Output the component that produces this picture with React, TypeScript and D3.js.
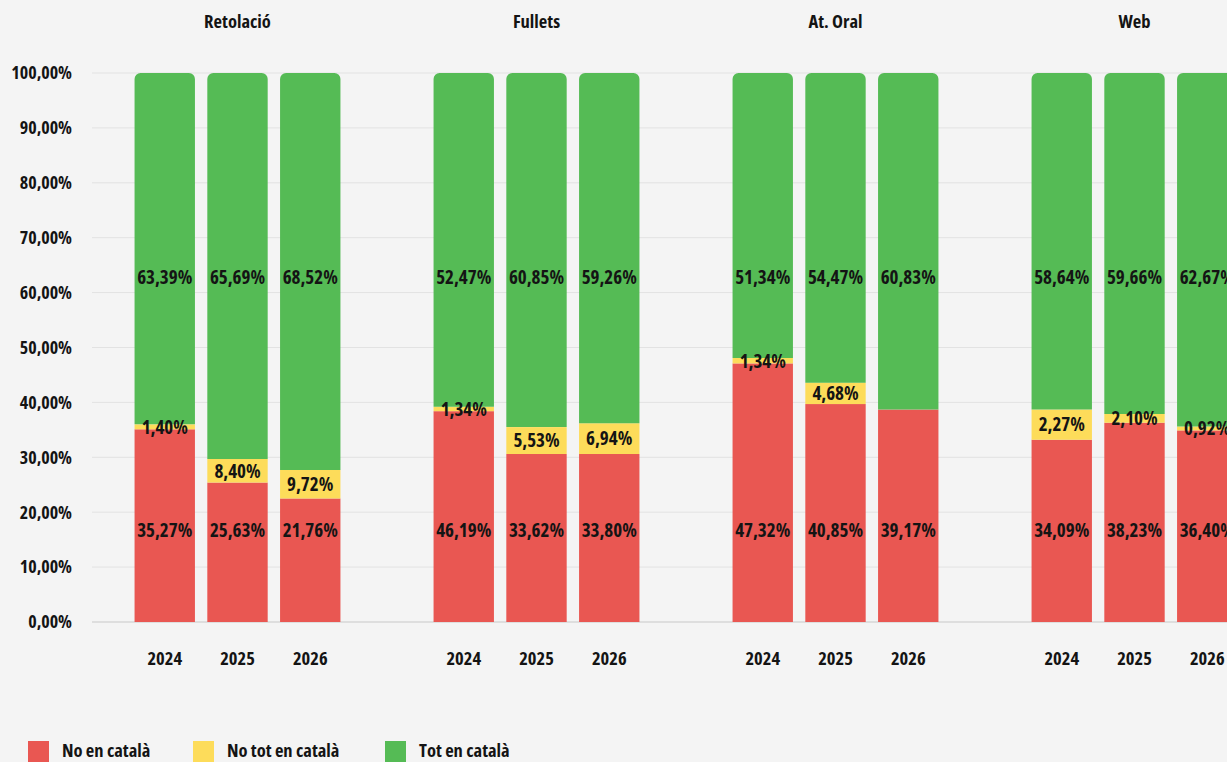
import { useEffect, useRef } from "react";
import * as d3 from "d3";

const W = 1227;
const H = 762;
const FONT = "'Open Sans', 'Liberation Sans Narrow', sans-serif";

const categories = ["Retolació", "Fullets", "At. Oral", "Web"];
const years = ["2024", "2025", "2026"];
const series = ["No en català", "No tot en català", "Tot en català"];
const colors = ["#e95752", "#fddc5a", "#55bb55"];

// bar segments as drawn (share of 100), one row per category, one entry per year
const noEnCatala = [
  [35.1, 25.4, 22.5],
  [38.4, 30.6, 30.6],
  [47.1, 39.7, 38.7],
  [33.2, 36.3, 34.9],
];
const noTotEnCatala = [
  [0.9, 4.3, 5.2],
  [0.8, 4.9, 5.6],
  [1.0, 3.9, 0],
  [5.5, 1.6, 0.7],
];
const totEnCatala = [
  [64.0, 70.3, 72.3],
  [60.8, 64.5, 63.8],
  [51.9, 56.4, 61.3],
  [61.3, 62.1, 64.4],
];

// values printed on the bars
const labelNoEnCatala = [
  [35.27, 25.63, 21.76],
  [46.19, 33.62, 33.8],
  [47.32, 40.85, 39.17],
  [34.09, 38.23, 36.4],
];
const labelNoTot = [
  [1.4, 8.4, 9.72],
  [1.34, 5.53, 6.94],
  [1.34, 4.68, null],
  [2.27, 2.1, 0.92],
];
const labelTot = [
  [63.39, 65.69, 68.52],
  [52.47, 60.85, 59.26],
  [51.34, 54.47, 60.83],
  [58.64, 59.66, 62.67],
];

const yTicks = [0, 10, 20, 30, 40, 50, 60, 70, 80, 90, 100];

// where the red and green labels sit, in axis units
const RED_LABEL_AT = 16.8;
const GREEN_LABEL_AT = 62.8;

const locale = d3.formatLocale({
  decimal: ",",
  thousands: ".",
  grouping: [3],
  currency: ["", "€"],
});
const fmt = (v: number) => locale.format(".2f")(v) + "%";

type Row = { cat: string; year: string; ci: number; yi: number; [k: string]: any };

const txt = (sel: d3.Selection<SVGTextElement, any, any, any>, size: number) =>
  sel
    .style("font-family", FONT)
    .style("font-stretch", "75%")
    .style("font-weight", 700)
    .style("font-size", `${size}px`)
    .attr("fill", "#141414");

export default function App() {
  const svgRef = useRef<SVGSVGElement>(null);

  useEffect(() => {
    const svg = d3.select(svgRef.current);
    if (!svg.node()) return;
    svg.selectAll("*").remove();

    svg.append("rect").attr("width", W).attr("height", H).attr("fill", "#f4f4f4");

    const y = d3.scaleLinear().domain([0, 100]).range([622, 73]);
    const x0 = d3.scaleBand().domain(categories).range([88, 1284]).padding(0);
    const x1 = d3
      .scaleBand()
      .domain(years)
      .range([0, x0.bandwidth()])
      .paddingInner(0.17)
      .paddingOuter(0.64);

    const rows: Row[] = [];
    categories.forEach((cat, ci) =>
      years.forEach((year, yi) =>
        rows.push({
          cat,
          year,
          ci,
          yi,
          [series[0]]: noEnCatala[ci][yi],
          [series[1]]: noTotEnCatala[ci][yi],
          [series[2]]: totEnCatala[ci][yi],
        }),
      ),
    );

    const stacked = d3.stack<Row>().keys(series)(rows);
    const bx = (d: Row) => x0(d.cat)! + x1(d.year)!;
    const bw = x1.bandwidth();

    // grid
    const grid = svg.append("g");
    grid
      .selectAll("line")
      .data(yTicks)
      .join("line")
      .attr("x1", 92)
      .attr("x2", W)
      .attr("y1", (d) => y(d))
      .attr("y2", (d) => y(d))
      .attr("stroke", (d) => (d === 0 ? "#c8c8c8" : "#e2e2e2"))
      .attr("stroke-width", 1);

    grid
      .selectAll("text")
      .data(yTicks)
      .join("text")
      .attr("x", 72)
      .attr("y", (d) => y(d))
      .attr("dy", "0.35em")
      .attr("text-anchor", "end")
      .call(txt, 18)
      .text((d) => fmt(d));

    // bars
    const r = 6;
    stacked.forEach((layer, li) => {
      const g = svg.append("g").attr("fill", colors[li]);
      layer.forEach((seg) => {
        const d = seg.data;
        const xL = bx(d);
        const yTop = y(seg[1]);
        const yBot = y(seg[0]);
        if (yBot - yTop <= 0) return;
        if (li === series.length - 1) {
          const p = d3.path();
          p.moveTo(xL, yBot);
          p.lineTo(xL, yTop + r);
          p.arcTo(xL, yTop, xL + r, yTop, r);
          p.lineTo(xL + bw - r, yTop);
          p.arcTo(xL + bw, yTop, xL + bw, yTop + r, r);
          p.lineTo(xL + bw, yBot);
          p.closePath();
          g.append("path").attr("d", p.toString());
        } else {
          g.append("rect")
            .attr("x", xL)
            .attr("y", yTop)
            .attr("width", bw)
            .attr("height", yBot - yTop);
        }
      });
    });

    const labels = svg.append("g").attr("text-anchor", "middle");
    rows.forEach((d, i) => {
      const cx = bx(d) + bw / 2;
      labels
        .append("text")
        .call(txt, 19)
        .attr("dy", "0.36em")
        .attr("x", cx)
        .attr("y", y(RED_LABEL_AT))
        .text(fmt(labelNoEnCatala[d.ci][d.yi]));
      const mid = labelNoTot[d.ci][d.yi];
      if (mid != null) {
        const seg = stacked[1][i];
        labels
          .append("text")
          .call(txt, 19)
          .attr("dy", "0.36em")
          .attr("x", cx)
          .attr("y", (y(seg[0]) + y(seg[1])) / 2)
          .text(fmt(mid));
      }
      labels
        .append("text")
        .call(txt, 19)
        .attr("dy", "0.36em")
        .attr("x", cx)
        .attr("y", y(GREEN_LABEL_AT))
        .text(fmt(labelTot[d.ci][d.yi]));
    });

    // year labels
    svg
      .append("g")
      .selectAll("text")
      .data(rows)
      .join("text")
      .attr("x", (d) => bx(d) + bw / 2)
      .attr("y", 659)
      .attr("dy", "0.35em")
      .attr("text-anchor", "middle")
      .call(txt, 18.5)
      .text((d) => d.year);

    // group titles
    svg
      .append("g")
      .selectAll("text")
      .data(categories)
      .join("text")
      .attr("x", (d) => x0(d)! + x0.bandwidth() / 2)
      .attr("y", 22)
      .attr("dy", "0.35em")
      .attr("text-anchor", "middle")
      .call(txt, 18.5)
      .text((d) => d);

    // legend
    const legendX = [28, 193, 385];
    const legend = svg
      .append("g")
      .selectAll("g")
      .data(series)
      .join("g")
      .attr("transform", (_d, i) => `translate(${legendX[i]},741)`);
    legend
      .append("rect")
      .attr("width", 21)
      .attr("height", 22)
      .attr("fill", (_d, i) => colors[i]);
    legend
      .append("text")
      .attr("x", 34)
      .attr("y", 10)
      .attr("dy", "0.35em")
      .call(txt, 18.5)
      .text((d) => d);
  }, []);

  return (
    <svg
      ref={svgRef}
      width={W}
      height={H}
      style={{ position: "absolute", left: 0, top: 0, display: "block" }}
    />
  );
}
